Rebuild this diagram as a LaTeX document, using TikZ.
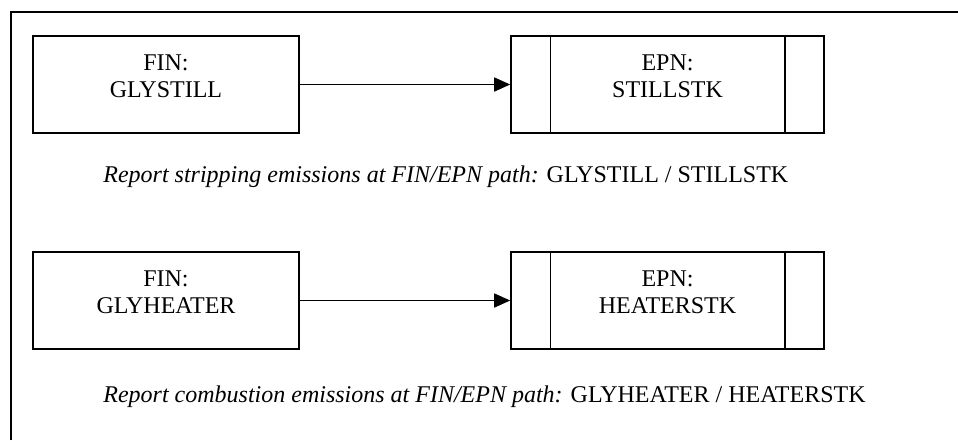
\documentclass[tikz,border=0pt]{standalone}
\usepackage{fontspec}
\setmainfont{Liberation Serif}
\usetikzlibrary{arrows.meta,positioning}

\tikzset{
  unit/.style={draw, line width=0.8pt, minimum width=133pt, minimum height=48.5pt, inner sep=0pt},
  stack/.style={unit, minimum width=156.5pt},
  bar/.style={line width=0.7pt},
  tag/.style={align=center, inner sep=0pt, font=\fontsize{12}{13.5}\selectfont},
  note/.style={anchor=base west, inner sep=0pt, font=\fontsize{12}{13.5}\selectfont},
  link/.style={line width=0.75pt, -{Triangle[length=8pt,width=7pt]}}
}

\begin{document}
\begin{tikzpicture}[x=0.5pt,y=-0.5pt]
\useasboundingbox (0,0) rectangle (958,440);

% frame, top and left side only
\draw[line width=1.2pt] (11,440) -- (11,12) -- (958,12);

% stripping path
\node[unit] (still) at (166,84.5) {};
\node[stack] (stillstk) at (667.5,84.5) {};
\draw[bar] ([xshift=20pt]stillstk.north west) -- ([xshift=20pt]stillstk.south west);
\draw[bar] ([xshift=-20pt]stillstk.north east) -- ([xshift=-20pt]stillstk.south east);
\node[tag, below=9.5pt of still.north] (stilltxt) {FIN:\\GLYSTILL};
\node[tag, below=9.5pt of stillstk.north] (stillstktxt) {EPN:\\STILLSTK};
\draw[link] (still) -- (stillstk);
\node[note] (stillnote) at (103,182) {\textit{Report stripping emissions at FIN/EPN path:} GLYSTILL / STILLSTK};

% combustion path
\node[unit] (heater) at (166,300.5) {};
\node[stack] (heaterstk) at (667.5,300.5) {};
\draw[bar] ([xshift=20pt]heaterstk.north west) -- ([xshift=20pt]heaterstk.south west);
\draw[bar] ([xshift=-20pt]heaterstk.north east) -- ([xshift=-20pt]heaterstk.south east);
\node[tag, below=9.5pt of heater.north] (heatertxt) {FIN:\\GLYHEATER};
\node[tag, below=9.5pt of heaterstk.north] (heaterstktxt) {EPN:\\HEATERSTK};
\draw[link] (heater) -- (heaterstk);
\node[note] (heaternote) at (103,402) {\textit{Report combustion emissions at FIN/EPN path:} GLYHEATER / HEATERSTK};

\end{tikzpicture}
\end{document}
